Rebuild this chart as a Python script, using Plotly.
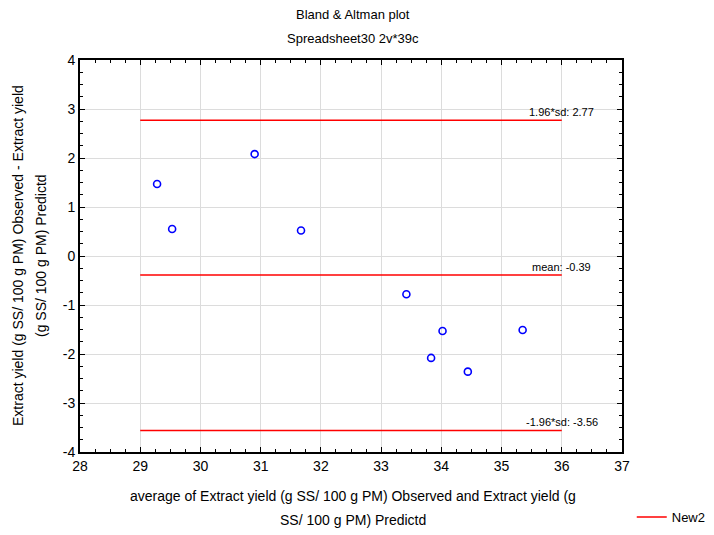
import plotly.graph_objects as go

# Data
avg_x = [29.28, 29.53, 30.90, 31.67, 33.42, 34.02, 33.83, 34.44, 35.35]
diff_y = [1.47, 0.55, 2.08, 0.52, -0.78, -1.53, -2.08, -2.36, -1.51]

mean_val = -0.39
upper_val = 2.77
lower_val = -3.56
line_x_start = 29
line_x_end = 36
ref_levels = [upper_val, mean_val, lower_val]
ref_labels = ["1.96*sd: 2.77", "mean: -0.39", "-1.96*sd: -3.56"]

x_ticks = [28, 29, 30, 31, 32, 33, 34, 35, 36, 37]
y_ticks = [-4, -3, -2, -1, 0, 1, 2, 3, 4]
y_tick_text = ["-4", "-3", "-2", "-1", "0", "1", "2", "3", "4"]

FONT = "Liberation Sans, Arial, sans-serif"

fig = go.Figure()

lx, ly = [], []
for v in ref_levels:
    lx += [line_x_start, line_x_end, None]
    ly += [v, v, None]
fig.add_trace(go.Scatter(x=lx, y=ly, mode="lines", name="New2",
                         line=dict(color="#ff0000", width=1.5), showlegend=True))

fig.add_trace(go.Scatter(x=avg_x, y=diff_y, mode="markers", showlegend=False,
                         marker=dict(symbol="circle-open", size=7, color="#0000ff",
                                     line=dict(width=1.6, color="#0000ff"))))

for v, t in zip(ref_levels, ref_labels):
    fig.add_annotation(x=line_x_end, y=v, text=t, showarrow=False, xanchor="center",
                       yanchor="bottom", yshift=0, font=dict(size=11, color="black", family=FONT))

# page body has an 8px margin: figure is 706x527 placed at (8,8)
OFF = 8
W, H = 714 - OFF, 535 - OFF
ML, MR, MT, MB = 80 - OFF, 92, 60 - OFF, 83
fig.update_layout(
    width=W, height=H,
    margin=dict(l=ML, r=MR, t=MT, b=MB, autoexpand=False),
    paper_bgcolor="white", plot_bgcolor="white",
    font=dict(family=FONT, size=14, color="black"),
    xaxis=dict(range=[28, 37], tickvals=x_ticks, showgrid=True, gridcolor="#dcdcdc",
               gridwidth=1, zeroline=False, showline=True, linecolor="black", linewidth=2,
               mirror="ticks", ticks="inside", ticklen=5, tickcolor="black", tickwidth=1,
               minor=dict(dtick=0.25, tick0=28, ticks="inside", ticklen=3, tickcolor="black", showgrid=False),
               tickfont=dict(size=14)),
    yaxis=dict(range=[-4, 4], tickvals=y_ticks, ticktext=y_tick_text, showgrid=True, gridcolor="#dcdcdc",
               gridwidth=1, zeroline=False, showline=True, linecolor="black", linewidth=2,
               mirror="ticks", ticks="inside", ticklen=5, tickcolor="black", tickwidth=1,
               minor=dict(dtick=0.25, tick0=0, ticks="inside", ticklen=3, tickcolor="black", showgrid=False),
               tickfont=dict(size=14)),
    legend=dict(x=1.018, y=-0.166, xanchor="left", yanchor="middle",
                font=dict(size=13, family=FONT), bgcolor="rgba(0,0,0,0)"),
)

plot_w = W - ML - MR
plot_h = H - MT - MB

def px_to_paper(px, py):
    # px, py are screen pixels
    return (px - OFF - ML) / plot_w, 1 - (py - OFF - MT) / plot_h

for text, px, py in [("Bland & Altman plot", 353, 15), ("Spreadsheet30 2v*39c", 353, 38)]:
    xx, yy = px_to_paper(px, py)
    fig.add_annotation(x=xx, y=yy, xref="paper", yref="paper", text=text, showarrow=False,
                       xanchor="center", yanchor="middle", font=dict(size=13, family=FONT))

for text, px, py in [("average of Extract yield (g SS/ 100 g PM) Observed and Extract yield (g", 353, 496),
                     ("SS/ 100 g PM) Predictd", 353, 520)]:
    xx, yy = px_to_paper(px, py)
    fig.add_annotation(x=xx, y=yy, xref="paper", yref="paper", text=text, showarrow=False,
                       xanchor="center", yanchor="middle", font=dict(size=14, family=FONT))

for text, px, py in [("Extract yield (g SS/ 100 g PM) Observed - Extract yield", 18, 256),
                     ("(g SS/ 100 g PM) Predictd", 41, 256)]:
    xx, yy = px_to_paper(px, py)
    fig.add_annotation(x=xx, y=yy, xref="paper", yref="paper", text=text, showarrow=False,
                       textangle=-90, xanchor="center", yanchor="middle",
                       font=dict(size=14, family=FONT))

fig.write_html("out.html")
